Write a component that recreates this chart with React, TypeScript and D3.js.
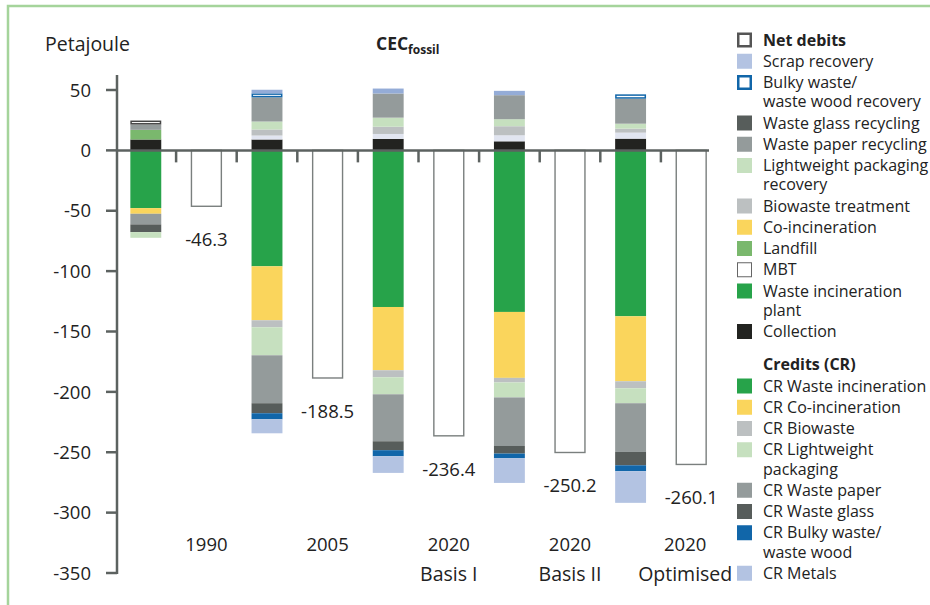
import React from "react";
import * as d3 from "d3";

// ---------- DATA ----------
const stackYears = ["1990", "2005", "2020", "2020", "2020"];
const stackSub = ["", "", "Basis I", "Basis II", "Optimised"];
const netValues = [-46.3, -188.5, -236.4, -250.2, -260.1];
const netLabels = ["-46.3", "-188.5", "-236.4", "-250.2", "-260.1"];

// debits (positive), per stacked bar
const collection = [9, 9, 9.5, 7.5, 9.7];
const landfill = [8, 0, 0, 0, 0];
const mbt = [0, 3.3, 4.1, 5, 5];
const biowaste = [0, 5, 6, 7.5, 3.3];
const lightweight = [0, 6.6, 7.5, 5.8, 4.1];
const wastePaper = [4.4, 20, 20, 19.9, 20.7];
const netMarker = [3.3, 0, 0, 0, 0];
const bulky = [0, 3.3, 0, 0, 3.6];
const scrap = [0, 3, 4.1, 3.6, 0];

// credits (negative), per stacked bar
const crWasteIncineration = [-47.8, -96, -129.7, -133.8, -137.4];
const crCoIncineration = [-4.7, -44.7, -52.4, -54.6, -53.8];
const crBiowaste = [0, -5.8, -5.8, -3.8, -5.8];
const crLightweight = [-4.7, -23.2, -14.1, -12.4, -12.4];
const crWastePaper = [-8.8, -39.7, -38.9, -40.2, -40.3];
const crWasteGlass = [-6.4, -8.3, -7.4, -6.3, -11.1];
const crBulky = [0, -5, -5, -3.9, -4.9];
const crMetals = [0, -11.6, -13.8, -20.4, -26.2];

const yTicks = [50, 0, -50, -100, -150, -200, -250, -300, -350];

// ---------- STYLES ----------
const C = {
  green: "#27a34a",
  yellow: "#fad55c",
  bio: "#bcc0c1",
  light: "#c6e0bf",
  paper: "#949b9b",
  glass: "#575d5b",
  blue: "#1166a9",
  metals: "#b3c3e2",
  scrapTop: "#94acd7",
  collection: "#222320",
  landfill: "#7ab86d",
  mbt: "#e1e5f0",
  axis: "#5c6260",
  text: "#222",
};

type Seg = { key: string; values: number[]; fill: string; stroke?: string; sw?: number };

const debitSeries: Seg[] = [
  { key: "collection", values: collection, fill: C.collection },
  { key: "landfill", values: landfill, fill: C.landfill },
  { key: "mbt", values: mbt, fill: C.mbt },
  { key: "biowaste", values: biowaste, fill: C.bio },
  { key: "lightweight", values: lightweight, fill: C.light },
  { key: "wastePaper", values: wastePaper, fill: C.paper },
  { key: "netMarker", values: netMarker, fill: "#fff", stroke: "#444", sw: 1.5 },
  { key: "bulky", values: bulky, fill: "#fff", stroke: C.blue, sw: 1.5 },
  { key: "scrap", values: scrap, fill: C.scrapTop },
];

const creditSeries: Seg[] = [
  { key: "crWasteIncineration", values: crWasteIncineration, fill: C.green },
  { key: "crCoIncineration", values: crCoIncineration, fill: C.yellow },
  { key: "crBiowaste", values: crBiowaste, fill: C.bio },
  { key: "crLightweight", values: crLightweight, fill: C.light },
  { key: "crWastePaper", values: crWastePaper, fill: C.paper },
  { key: "crWasteGlass", values: crWasteGlass, fill: C.glass },
  { key: "crBulky", values: crBulky, fill: C.blue },
  { key: "crMetals", values: crMetals, fill: C.metals },
];
// 1990 stacks its lightweight-packaging credit at the bottom
const creditOrder1990 = ["crWasteIncineration", "crCoIncineration", "crWastePaper", "crWasteGlass", "crLightweight"];

type LegendItem = { lines: string[]; fill?: string; stroke?: string; sw?: number; bold?: boolean; header?: boolean };
const legendItems: LegendItem[] = [
  { lines: ["Net debits"], fill: "#fff", stroke: "#555", sw: 2.5, bold: true },
  { lines: ["Scrap recovery"], fill: C.metals },
  { lines: ["Bulky waste/", "waste wood recovery"], fill: "#fff", stroke: C.blue, sw: 2.5 },
  { lines: ["Waste glass recycling"], fill: C.glass },
  { lines: ["Waste paper recycling"], fill: C.paper },
  { lines: ["Lightweight packaging", "recovery"], fill: C.light },
  { lines: ["Biowaste treatment"], fill: C.bio },
  { lines: ["Co-incineration"], fill: C.yellow },
  { lines: ["Landfill"], fill: C.landfill },
  { lines: ["MBT"], fill: "#fff", stroke: "#666", sw: 1 },
  { lines: ["Waste incineration", "plant"], fill: C.green },
  { lines: ["Collection"], fill: C.collection },
  { lines: ["Credits (CR)"], bold: true, header: true },
  { lines: ["CR Waste incineration"], fill: C.green },
  { lines: ["CR Co-incineration"], fill: C.yellow },
  { lines: ["CR Biowaste"], fill: C.bio },
  { lines: ["CR Lightweight", "packaging"], fill: C.light },
  { lines: ["CR Waste paper"], fill: C.paper },
  { lines: ["CR Waste glass"], fill: C.glass },
  { lines: ["CR Bulky waste/", "waste wood"], fill: C.blue },
  { lines: ["CR Metals"], fill: C.metals },
];

const FONT = "'Open Sans', 'Noto Sans', sans-serif";
const NUM_SIZE = 18.5;
const WORD_SIZE = 19.5;

export default function App() {
  const W = 930, H = 605;
  const bandKeys = d3.range(10).map(String);
  const x = d3.scaleBand<string>().domain(bandKeys).range([115.5, 721.5]).paddingInner(0.49).paddingOuter(0.245);
  const y = d3.scaleLinear().domain([-350, 50]).range([573, 90]);
  const bw = x.bandwidth();
  const step = x.step();
  const axisX0 = 117;
  const axisX1 = 709;
  const y0 = y(0);

  const rects: React.ReactNode[] = [];
  stackYears.forEach((_, i) => {
    const bx = x(String(i * 2))!;
    let acc = 0;
    debitSeries.forEach((s) => {
      const v = s.values[i];
      if (!v) return;
      const top = y(acc + v), bot = y(acc);
      acc += v;
      const inset = s.stroke ? (s.sw || 1) / 2 : 0;
      rects.push(
        <rect key={`d${i}${s.key}`} x={bx + inset} y={top + inset} width={bw - 2 * inset} height={Math.max(0, bot - top - 2 * inset)}
          fill={s.fill} stroke={s.stroke || "none"} strokeWidth={s.sw || 0} />
      );
    });
    const order = i === 0 ? creditOrder1990.map((k) => creditSeries.find((s) => s.key === k)!) : creditSeries;
    let neg = 0;
    order.forEach((s) => {
      const v = s.values[i];
      if (!v) return;
      const top = y(neg), bot = y(neg + v);
      neg += v;
      rects.push(<rect key={`c${i}${s.key}`} x={bx} y={top} width={bw} height={bot - top} fill={s.fill} />);
    });
  });

  // legend layout
  let ly = 40;
  const legend = legendItems.map((it, k) => {
    if (it.header) ly += 12;
    const cy = ly;
    ly += 21.25 + (it.lines.length - 1) * 19.25;
    const sq = 15;
    const inset = it.stroke ? (it.sw || 1) / 2 : 0;
    return (
      <g key={`l${k}`}>
        {it.fill && (
          <rect x={737 + inset} y={cy - sq / 2 + inset} width={sq - 2 * inset} height={sq - 2 * inset}
            fill={it.fill} stroke={it.stroke || "none"} strokeWidth={it.sw || 0} />
        )}
        {it.lines.map((ln, j) => (
          <text key={j} x={763} y={cy + j * 19.25} dy="0.35em" fontSize={16} fontWeight={it.bold ? 700 : 400} fill={C.text}>{ln}</text>
        ))}
      </g>
    );
  });

  return (
    <svg width={W} height={H} style={{ position: "absolute", left: 0, top: 0, background: "#fff" }} fontFamily={FONT}>
      <path d={`M8,${H} L8,6 L${W},6`} fill="none" stroke="#a5d49b" strokeWidth={2.5} />

      <text x={45} y={51} fontSize={WORD_SIZE} fill={C.text}>Petajoule</text>
      <text x={376} y={50} fontSize={17.5} fontWeight={700} fill={C.text}>
        CEC<tspan fontSize={12} dy={4}>fossil</tspan>
      </text>

      {yTicks.map((t) => (
        <g key={`t${t}`}>
          <line x1={106} x2={axisX0} y1={y(t)} y2={y(t)} stroke={C.axis} strokeWidth={2.5} />
          <text x={91} y={y(t)} dy="0.36em" textAnchor="end" fontSize={NUM_SIZE} fill={C.text}>{t}</text>
        </g>
      ))}

      {rects}

      {netValues.map((v, i) => {
        const bx = x(String(i * 2 + 1))!;
        return (
          <g key={`n${i}`}>
            <rect x={bx + 0.5} y={y0} width={bw - 1} height={y(v) - y0} fill="#fff" stroke="#7a7f7e" strokeWidth={1.4} />
            <text x={bx + bw / 2} y={y(v) + 40} textAnchor="middle" fontSize={NUM_SIZE} fill={C.text}>{netLabels[i]}</text>
          </g>
        );
      })}

      <line x1={axisX0} x2={axisX0} y1={75} y2={574} stroke={C.axis} strokeWidth={2.5} />
      <line x1={axisX0 - 1} x2={axisX1} y1={y0} y2={y0} stroke={C.axis} strokeWidth={2.5} />
      {d3.range(1, 10).map((k) => {
        const tx = x(String(k))! - (step - bw) / 2;
        return <line key={`xt${k}`} x1={tx} x2={tx} y1={y0} y2={y0 + 12} stroke={C.axis} strokeWidth={2.5} />;
      })}

      {stackYears.map((yr, i) => {
        const cx = x(String(i * 2 + 1))! + bw / 2 - (i === stackYears.length - 1 ? 6 : 0);
        return (
          <g key={`cl${i}`}>
            <text x={cx} y={551} textAnchor="middle" fontSize={NUM_SIZE} fill={C.text}>{yr}</text>
            {stackSub[i] && <text x={cx} y={581} textAnchor="middle" fontSize={WORD_SIZE} fill={C.text}>{stackSub[i]}</text>}
          </g>
        );
      })}

      {legend}
    </svg>
  );
}
